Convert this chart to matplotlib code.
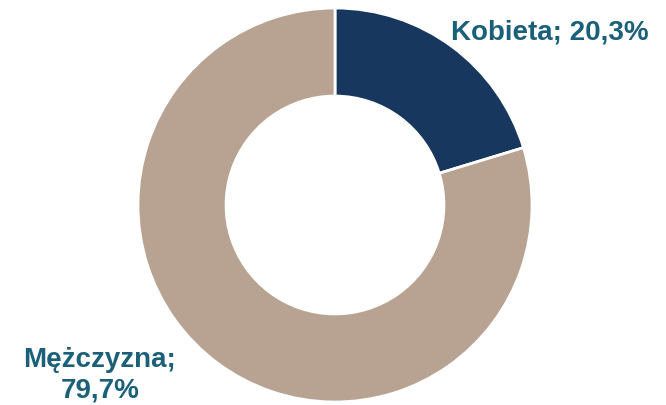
import matplotlib
matplotlib.use("Agg")
import matplotlib.pyplot as plt

labels = ["Kobieta", "Mężczyzna"]
shares = [20.3, 79.7]
colors = ["#17375E", "#B8A392"]
label_color = "#1B6079"

plt.rcParams['font.family'] = ['Liberation Sans', 'DejaVu Sans']

fig = plt.figure(figsize=(6.66, 4.05), dpi=100)
ax = fig.add_axes([0, 0, 1, 1])
ax.pie(shares, colors=colors, startangle=90, counterclock=False, radius=1.0,
       wedgeprops=dict(width=0.447, edgecolor="white", linewidth=2))
ax.set_aspect("auto")
ax.set_xlim(-335 / 197, (666 - 335) / 197)
ax.set_ylim(-200 / 197, 205 / 197)
ax.axis("off")

ax.text(1.091, 0.878, f"{labels[0]}; {shares[0]:.1f}%".replace(".", ","),
        ha="center", va="center", fontsize=20, fontweight="bold", color=label_color)
ax.text(-1.193, -0.865, f"{labels[1]};\n{shares[1]:.1f}%".replace(".", ","),
        ha="center", va="center", fontsize=20, fontweight="bold", color=label_color,
        linespacing=1.25)

fig.savefig("out.png", dpi=100)
